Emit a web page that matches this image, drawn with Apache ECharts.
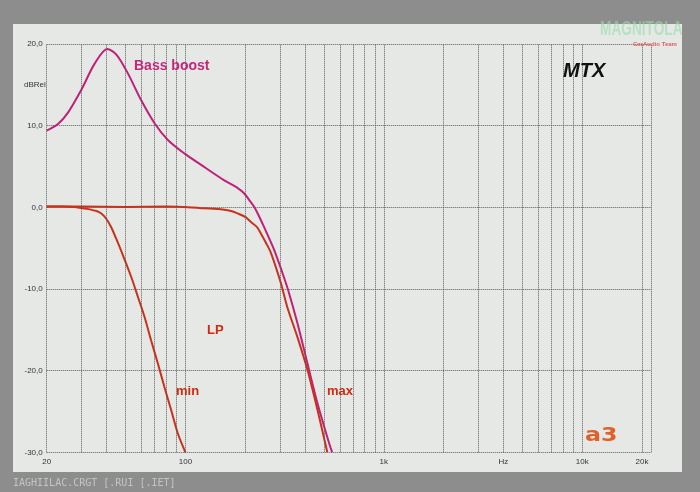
<!DOCTYPE html>
<html>
<head>
<meta charset="utf-8">
<script src="https://cdn.jsdelivr.net/npm/echarts@6/dist/echarts.min.js"></script>
<style>html,body{margin:0;padding:0;background:#8d8d8d;}#c{width:700px;height:492px;}</style>
</head>
<body>
<div id="c"></div>
<script>
// Frequencies (Hz) and levels (dBRel)
var bassFreq = [20, 22.8, 25.6, 29.9, 34.9, 40.4, 44.9, 51.3, 59.9, 69.9, 81.6, 98.8, 120, 157, 185, 198, 209, 222, 234, 249, 280, 309, 329, 367, 412, 463, 530, 549];
var bassDb   = [9.4, 10.2, 11.6, 14.4, 17.6, 19.4, 18.7, 16.4, 13.1, 10.3, 8.25, 6.6, 5.2, 3.3, 2.3, 1.7, 0.95, 0.07, -1.0, -2.4, -5.2, -8.1, -10.1, -14.2, -19.1, -24.0, -28.9, -30];

var lpMaxFreq = [20, 30, 50, 80, 120, 151, 170, 183, 201, 214, 229, 240, 254, 270, 303, 326, 367, 412, 463, 519];
var lpMaxDb   = [0.1, 0.1, 0.05, 0.1, -0.1, -0.25, -0.45, -0.74, -1.2, -1.8, -2.4, -3.2, -4.3, -5.6, -9.3, -12.2, -15.9, -19.9, -24.8, -30];

var lpMinFreq = [20, 24, 27.5, 31.7, 35.6, 37.7, 40.0, 42.4, 44.9, 47.6, 53.3, 57.6, 62.2, 67.2, 72.6, 78.4, 84.7, 91.6, 100];
var lpMinDb   = [0.1, 0.1, 0.05, -0.18, -0.45, -0.76, -1.43, -2.5, -3.9, -5.4, -8.5, -10.95, -13.4, -16.3, -19.1, -22.0, -24.8, -27.7, -30];

var gridFreqs = [20,30,40,50,60,70,80,90,100,200,300,400,500,600,700,800,900,1000,2000,3000,4000,5000,6000,7000,8000,9000,10000,20000,22200];
var xTickValues = [20, 100, 1000, 4000, 10000, 20000];
var xTickLabels = ['20', '100', '1k', 'Hz', '10k', '20k'];

function pairs(xs, ys){ return xs.map(function(x,i){ return [x, ys[i]]; }); }

var gridLineData = gridFreqs.map(function(f){
  var idx = xTickValues.indexOf(f);
  var item = { xAxis: f };
  if (idx >= 0) {
    item.label = { show: true, position: 'start', formatter: xTickLabels[idx], distance: 5,
      color: '#333', fontSize: 8, fontFamily: 'Liberation Sans' };
  } else {
    item.label = { show: false };
  }
  return item;
});

var chart = echarts.init(document.getElementById('c'));
var gridColor = '#5a5a5a';
chart.setOption({
  backgroundColor: '#8d8d8d',
  animation: false,
  grid: { left: 46.7, right: 49, top: 44, bottom: 39.7 },
  xAxis: {
    type: 'log', logBase: 10, min: 20, max: 22200,
    axisLine: { show: false }, axisTick: { show: false }, axisLabel: { show: false },
    splitLine: { show: false }, minorSplitLine: { show: false }
  },
  yAxis: {
    type: 'value', min: -30, max: 20, interval: 10,
    axisLine: { show: false }, axisTick: { show: false },
    axisLabel: { margin: 4, color: '#333', fontSize: 8, fontFamily: 'Liberation Sans',
      formatter: function(v){ return v.toFixed(1).replace('.', ','); } },
    splitLine: { show: true, lineStyle: { color: gridColor, type: 'dotted', width: 1 } }
  },
  graphic: { elements: [
    { type: 'rect', z: -100, shape: { x: 13, y: 24, width: 669, height: 448 }, style: { fill: '#e6e8e6' } },
    { type: 'text', z: 10, left: 13, top: 478, style: { text: 'IAGHIILAC.CRGT [.RUI [.IET]', fill: '#c4c4c4', font: '10px "DejaVu Sans Mono"' } },
    { type: 'text', z: 10, left: 24, top: 81, style: { text: 'dBRel', fill: '#333', font: '8px "Liberation Sans"' } },
    { type: 'text', z: 10, left: 134, top: 59, style: { text: 'Bass boost', fill: '#c4267a', font: 'bold 14px "Liberation Sans"' } },
    { type: 'text', z: 10, left: 563, top: 61, style: { text: 'MTX', fill: '#111', font: 'italic bold 20px "Liberation Sans"' } },
    { type: 'text', z: 10, left: 207, top: 324, style: { text: 'LP', fill: '#d02a10', font: 'bold 13px "Liberation Sans"' } },
    { type: 'text', z: 10, left: 176, top: 385, style: { text: 'min', fill: '#d02a10', font: 'bold 13px "Liberation Sans"' } },
    { type: 'text', z: 10, left: 327, top: 385, style: { text: 'max', fill: '#d02a10', font: 'bold 13px "Liberation Sans"' } },
    { type: 'text', z: 10, x: 585, y: 427, scaleX: 1.25, style: { text: 'a3', fill: '#e0602c', font: 'bold 19px "DejaVu Sans"' } },
    { type: 'text', z: 10, x: 600, y: 19, scaleX: 0.72, scaleY: 1.1, style: { text: 'MAGNITOLA', fill: 'rgba(150,220,170,0.6)', font: 'bold 19px "Liberation Sans"' } },
    { type: 'text', z: 10, left: 633, top: 41, style: { text: 'CarAudio Team', fill: '#e06060', font: 'bold 6px "Liberation Sans"' } }
  ]},
  series: [
    {
      type: 'line', name: 'grid', data: [], silent: true,
      markLine: { silent: true, symbol: 'none', animation: false,
        lineStyle: { color: gridColor, type: 'dotted', width: 1 },
        data: gridLineData }
    },
    { type: 'line', name: 'Bass boost', data: pairs(bassFreq, bassDb), smooth: 0.3, showSymbol: false,
      lineStyle: { color: '#c0207a', width: 2 }, z: 3 },
    { type: 'line', name: 'LP max', data: pairs(lpMaxFreq, lpMaxDb), smooth: 0.3, showSymbol: false,
      lineStyle: { color: '#c8321a', width: 2 }, z: 4 },
    { type: 'line', name: 'LP min', data: pairs(lpMinFreq, lpMinDb), smooth: 0.3, showSymbol: false,
      lineStyle: { color: '#c8321a', width: 2 }, z: 4 }
  ]
});
</script>
</body>
</html>
